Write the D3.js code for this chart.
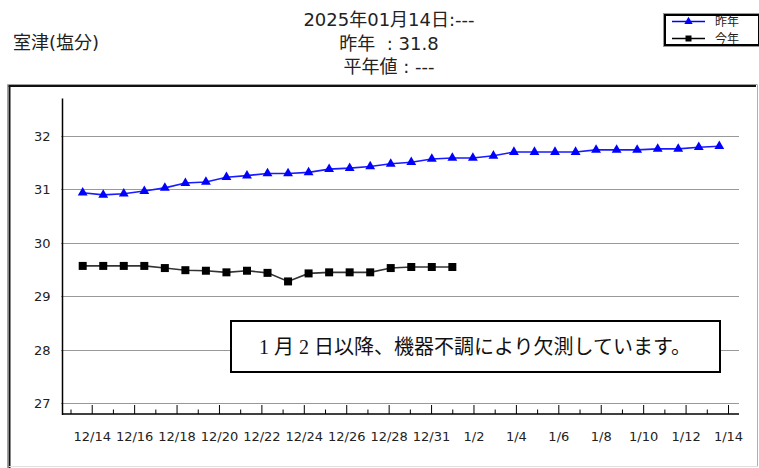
<!DOCTYPE html>
<html><head><meta charset="utf-8">
<script src="https://cdn.jsdelivr.net/npm/d3@7"></script>
<style>
body{margin:0;background:#fff;}
svg text{white-space:pre;}
</style></head>
<body><svg id="c" width="759" height="468"></svg>
<script>
// ---- data ----
const dates = ["12/14","12/15","12/16","12/17","12/18","12/19","12/20","12/21","12/22","12/23","12/24","12/25","12/26","12/27","12/28","12/29","12/30","12/31","1/1","1/2","1/3","1/4","1/5","1/6","1/7","1/8","1/9","1/10","1/11","1/12","1/13","1/14"];
const lastYear = [30.94,30.90,30.92,30.97,31.03,31.12,31.14,31.23,31.26,31.30,31.30,31.32,31.38,31.40,31.43,31.48,31.51,31.57,31.59,31.59,31.63,31.70,31.70,31.70,31.70,31.74,31.74,31.74,31.76,31.76,31.79,31.81];
const thisYear = [29.57,29.57,29.57,29.57,29.53,29.49,29.48,29.45,29.48,29.44,29.28,29.43,29.45,29.45,29.45,29.53,29.55,29.55,29.55];
const tickLabels = ["","12/14","","12/16","","12/18","","12/20","","12/22","","12/24","","12/26","","12/28","","12/31","","1/2","","1/4","","1/6","","1/8","","1/10","","1/12","","1/14"];
const yTicks = [27,28,29,30,31,32];
const titleLines = ["2025年01月14日:---","昨年  : 31.8","平年値 : ---"];
const stationName = "室津(塩分)";
const legendNames = ["昨年","今年"];
const note = "1 月 2 日以降、機器不調により欠測しています。";

const svg = d3.select("#c");
const latin = "'DejaVu Sans','Noto Sans CJK JP',sans-serif";

// outer inset frame
svg.append("line").attr("x1",7.5).attr("y1",84.5).attr("x2",757.5).attr("y2",84.5).attr("stroke","#a0a0a0");
svg.append("line").attr("x1",7.5).attr("y1",84.5).attr("x2",7.5).attr("y2",468).attr("stroke","#a0a0a0");
svg.append("line").attr("x1",8.5).attr("y1",86).attr("x2",756).attr("y2",86).attr("stroke","#111").attr("stroke-width",2);
svg.append("line").attr("x1",9.5).attr("y1",85.5).attr("x2",9.5).attr("y2",468).attr("stroke","#111").attr("stroke-width",2);
svg.append("line").attr("x1",757.5).attr("y1",85).attr("x2",757.5).attr("y2",467).attr("stroke","#b0b0b0");
svg.append("line").attr("x1",9).attr("y1",466.5).attr("x2",758).attr("y2",466.5).attr("stroke","#e0e0e0");

// titles
svg.append("text").attr("x",13).attr("y",49).attr("font-family",latin).attr("font-size",18).attr("fill","#222").text(stationName);
svg.selectAll("text.title").data(titleLines).join("text").attr("class","title")
  .attr("x",389).attr("y",(d,i)=>26+i*23.5).attr("text-anchor","middle")
  .attr("font-family",latin).attr("font-size",18).attr("fill","#222").text(d=>d);

// scales
const x = d3.scalePoint().domain(dates).range([82.7,719.3]);
const xt = d3.scalePoint().domain(d3.range(tickLabels.length)).range([70.5,728]);
const y = d3.scaleLinear().domain([26.8,32.7]).range([414,98.6]);

// grid
svg.append("g").selectAll("line").data(yTicks).join("line")
  .attr("x1",61).attr("x2",739).attr("y1",d=>Math.round(y(d))+0.5).attr("y2",d=>Math.round(y(d))+0.5)
  .attr("stroke","#999").attr("stroke-width",1);

// y axis
const ya = svg.append("g").attr("transform","translate(62.5,0)")
  .call(d3.axisLeft(y).tickValues(yTicks).tickSize(0).tickPadding(12).tickFormat(d3.format("d")));
ya.select(".domain").remove();
ya.selectAll("text").attr("font-family","'DejaVu Sans',sans-serif").attr("font-size",13).attr("fill","#222");
svg.append("line").attr("x1",62.5).attr("x2",62.5).attr("y1",y.range()[1]).attr("y2",415).attr("stroke","#000").attr("stroke-width",1.5);

// x axis
const xa = svg.append("g").attr("transform","translate(0,414)")
  .call(d3.axisBottom(xt).tickSizeInner(-9).tickSizeOuter(0).tickPadding(18).tickFormat(i=>tickLabels[i]));
xa.select(".domain").attr("d","M62,0H739").attr("stroke","#000").attr("stroke-width",1.5);
xa.selectAll(".tick line").attr("stroke","#000").attr("y2",(i)=>tickLabels[i]?-9:-4.5);
xa.selectAll("text").attr("font-family","'DejaVu Sans',sans-serif").attr("font-size",13).attr("fill","#222");

// lines
const line = d3.line().x((d,i)=>x(dates[i])).y(d=>y(d));
svg.append("path").datum(lastYear).attr("d",line).attr("fill","none").attr("stroke","#1a1aff").attr("stroke-width",1.6);
svg.append("path").datum(thisYear).attr("d",line).attr("fill","none").attr("stroke","#333").attr("stroke-width",1.6);

const tri = d3.symbol().type(d3.symbolTriangle).size(42);
const sq = d3.symbol().type(d3.symbolSquare).size(64);
svg.append("g").selectAll("path").data(lastYear).join("path")
  .attr("d",tri).attr("transform",(d,i)=>`translate(${x(dates[i])},${y(d)})`).attr("fill","#0000ff");
svg.append("g").selectAll("path").data(thisYear).join("path")
  .attr("d",sq).attr("transform",(d,i)=>`translate(${x(dates[i])},${y(d)})`).attr("fill","#000");

// annotation box
svg.append("rect").attr("x",231).attr("y",321).attr("width",489).attr("height",51).attr("fill","#fff").attr("stroke","#000").attr("stroke-width",2);
svg.append("text").attr("x",475).attr("y",354).attr("text-anchor","middle")
  .attr("font-family","'Liberation Serif','Noto Sans CJK JP',serif").attr("font-size",20).attr("fill","#111").text(note);

// legend
svg.append("rect").attr("x",663.5).attr("y",13.5).attr("width",96).attr("height",33).attr("fill","#fff").attr("stroke","#999").attr("stroke-width",1);
svg.append("rect").attr("x",665).attr("y",15).attr("width",94).attr("height",30).attr("fill","none").attr("stroke","#000").attr("stroke-width",2);
const lg = svg.append("g").selectAll("g").data(legendNames).join("g").attr("transform",(d,i)=>`translate(0,${21.5+i*17})`);
lg.append("line").attr("x1",672).attr("x2",705).attr("stroke",(d,i)=>i?"#000":"#0000ff").attr("stroke-width",1.3);
lg.append("path").attr("d",(d,i)=>i?sq.size(36)():tri.size(30)()).attr("transform","translate(688.5,0)").attr("fill",(d,i)=>i?"#000":"#0000ff");
lg.append("text").attr("x",715).attr("y",4.5).attr("font-family","'Noto Sans CJK JP',sans-serif").attr("font-size",12).attr("fill","#222").text(d=>d);
</script></body></html>
